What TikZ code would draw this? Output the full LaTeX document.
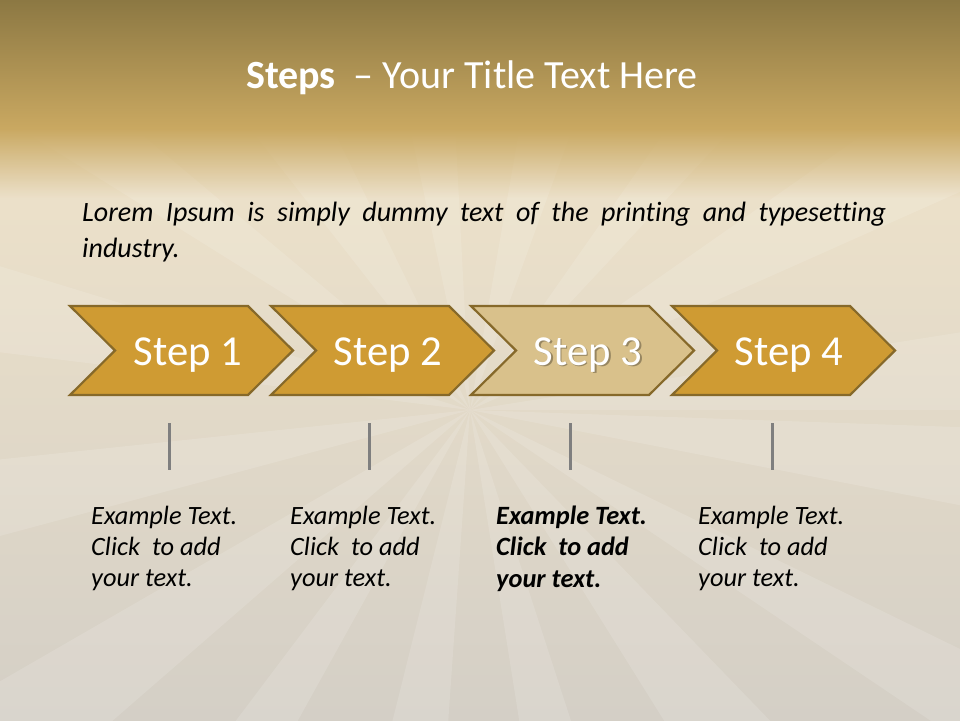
\documentclass[tikz,border=0pt]{standalone}
\usepackage{fontspec}
\setmainfont{Carlito}[Ligatures=NoCommon]
\definecolor{bandtop}{HTML}{8C7843}
\definecolor{bandbot}{HTML}{C9A861}
\definecolor{paper}{HTML}{EFE3CA}
\definecolor{paperlow}{HTML}{D4CFC6}
\definecolor{chev}{HTML}{CF9B33}
\definecolor{chevlight}{HTML}{D9C18B}
\definecolor{chevedge}{HTML}{86692A}
\definecolor{tickgray}{HTML}{7F7F7F}
\begin{document}
\begin{tikzpicture}[x=1pt,y=1pt,
  chevron/.style={fill=chev,draw=chevedge,line width=2.2pt,line join=miter},
  steplabel/.style={text=white,font=\fontsize{42.7}{48}\selectfont,inner sep=0pt,anchor=base},
  tickline/.style={draw=tickgray,line width=3pt},
  bodytext/.style={font=\fontsize{26.4}{31.2}\selectfont\itshape,inner sep=0pt,anchor=north west,align=left}]
\useasboundingbox (0,0) rectangle (960,-720);
\begin{scope}
\clip (0,0) rectangle (960,-720);
\shade[top color=paper, bottom color=paperlow] (0,-120) rectangle (960,-720);
\coordinate (O) at (470,-410);
\foreach \a/\w in {0/9,24/11,47/8,70/10,93/9,116/12,140/8,163/10,186/9,210/11,233/8,256/10,279/9,302/12,326/8,349/9}{
  \fill[white,opacity=0.13] (O) -- +(\a:1400) -- +(\a+\w:1400) -- cycle;
}
\shade[top color=bandtop, bottom color=bandbot] (0,0) rectangle (960,-128);
\foreach \i in {0,...,69}{
  \pgfmathsetmacro\op{1-\i/70}
  \fill[bandbot,opacity=\op] (0,-128-\i) rectangle (960,-129.2-\i);
}
\end{scope}
% title
\node (title) [anchor=base,text=white,font=\fontsize{40}{46}\selectfont,inner sep=0pt] at (472,-88) {\textbf{Steps}\ \ – Your Title Text Here};
% intro
\node (intro) [font=\fontsize{28}{36}\selectfont\itshape,inner sep=0pt,anchor=north west,text width=804pt,align=justify] at (82,-202) {Lorem Ipsum is simply dummy text of the printing and \mbox{typesetting} \mbox{industry.}};
% chevrons
\foreach \x/\c/\n in {70/chev/1,271/chev/2,471/chevlight/3,672/chev/4}{
  \path[chevron,fill=\c] (\x,-306) -- (\x+178,-306) -- (\x+223,-350.5) -- (\x+178,-395) -- (\x,-395) -- (\x+45,-350.5) -- cycle;
}
\node[steplabel] (s1) at (188,-365) {Step 1};
\node[steplabel] (s2) at (388,-365) {Step 2};
\node[steplabel,text=black,opacity=0.3] (s3shadow) at (589.5,-366.5) {Step 3};
\node[steplabel] (s3) at (588,-365) {Step 3};
\node[steplabel] (s4) at (789,-365) {Step 4};
% ticks
\foreach \x in {169,369,570,772}{
  \path[tickline] (\x,-423) -- (\x,-470);
}
% example texts
\node[bodytext] (e1) at (91,-506) {Example Text.\\Click~ to add\\your text.};
\node[bodytext] (e2) at (290,-506) {Example Text.\\Click~ to add\\your text.};
\node[bodytext,font=\fontsize{26.4}{31.2}\selectfont\itshape\bfseries] (e3) at (496,-506) {Example Text.\\Click~ to add\\your text.};
\node[bodytext] (e4) at (698,-506) {Example Text.\\Click~ to add\\your text.};
\end{tikzpicture}
\end{document}
